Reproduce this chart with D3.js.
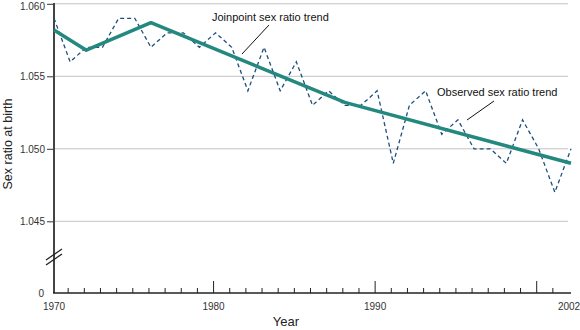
<!DOCTYPE html>
<html>
<head>
<meta charset="utf-8">
<script src="https://cdn.jsdelivr.net/npm/d3@7"></script>
<style>
  body { margin: 0; background: #fff; }
  svg { font-family: Arial, "Liberation Sans", sans-serif; }
</style>
</head>
<body>
<figure id="chart" style="margin:0"></figure>
<script>
// observed sex ratio at birth, one value per year
const years = d3.range(1970, 2003);
const observed = [
  1.059, 1.056, 1.057, 1.057, 1.059, 1.059, 1.057, 1.058, 1.058, 1.057,
  1.058, 1.057, 1.054, 1.057, 1.054, 1.056, 1.053, 1.054, 1.053, 1.053,
  1.054, 1.049, 1.053, 1.054, 1.051, 1.052, 1.050, 1.050, 1.049, 1.052,
  1.050, 1.047, 1.050
];
// joinpoint trend vertices
const trendYears = [1970, 1972, 1976, 1988, 2002];
const trendValues = [1.0582, 1.0568, 1.0587, 1.0532, 1.0490];

const yTicks = [1.045, 1.050, 1.055, 1.060];
const xLabels = [1970, 1980, 1990, 2002];
const xMajor = [1980, 1990, 2000];

const width = 580, height = 330;
const svg = d3.select("#chart").append("svg")
  .attr("width", width)
  .attr("height", height);

const x = d3.scaleLinear().domain([1970, 2002]).range([54, 571]);
const y = d3.scaleLinear().domain([1.045, 1.060]).range([221.3, 3.8]);
const baseY = 293;

// gridlines
svg.append("g")
  .selectAll("line")
  .data(yTicks)
  .enter()
  .append("line")
  .attr("x1", x(1970))
  .attr("x2", 568)
  .attr("y1", d => y(d))
  .attr("y2", d => y(d))
  .attr("stroke", "#c4c4c4")
  .attr("stroke-width", 1);

// Y axis with ticks
const yAxis = svg.append("g")
  .attr("transform", "translate(" + x(1970) + ",0)")
  .call(d3.axisLeft(y).tickValues(yTicks).tickFormat(d3.format(".3f")).tickSize(7).tickSizeOuter(0));
yAxis.select(".domain").remove();
yAxis.selectAll("line").attr("stroke", "#333");
yAxis.selectAll("text")
  .attr("font-size", 10)
  .attr("fill", "#333")
  .attr("x", -9)
  .attr("dy", d => d === 1.060 ? "0.6em" : "0.32em");

// zero label
svg.append("text")
  .attr("x", x(1970) - 10)
  .attr("y", baseY)
  .attr("dy", "0.35em")
  .attr("text-anchor", "end")
  .attr("font-size", 10)
  .attr("fill", "#333")
  .text("0");

// y axis line
svg.append("line")
  .attr("x1", x(1970)).attr("x2", x(1970))
  .attr("y1", 3).attr("y2", baseY)
  .attr("stroke", "#444").attr("stroke-width", 2);

// axis break
[0, 5].forEach(off => {
  svg.append("line")
    .attr("x1", x(1970) - 8).attr("y1", 260 + off)
    .attr("x2", x(1970) + 8).attr("y2", 249 + off)
    .attr("stroke", "#222").attr("stroke-width", 1.3);
});

// x axis ticks (minor + major)
const tickG = svg.append("g").attr("transform", "translate(-2,0)");
tickG.selectAll("line")
  .data(years.filter(d => d > 1970 && d < 2002))
  .enter()
  .append("line")
  .attr("x1", d => x(d)).attr("x2", d => x(d))
  .attr("y1", baseY)
  .attr("y2", d => xMajor.includes(d) ? baseY - 12 : baseY - 5)
  .attr("stroke", "#222").attr("stroke-width", 1);

svg.append("line")
  .attr("x1", x(1970) - 1).attr("x2", x(2002))
  .attr("y1", baseY).attr("y2", baseY)
  .attr("stroke", "#222").attr("stroke-width", 1.5);

svg.append("g")
  .selectAll("text")
  .data(xLabels)
  .enter()
  .append("text")
  .attr("x", d => d === 1970 ? x(d) : x(d) - 2)
  .attr("y", 310)
  .attr("text-anchor", "middle")
  .attr("font-size", 10)
  .attr("fill", "#333")
  .text(d => d);

// axis titles
svg.append("text")
  .attr("x", 286)
  .attr("y", 326)
  .attr("text-anchor", "middle")
  .attr("font-size", 13)
  .attr("fill", "#222")
  .text("Year");

svg.append("text")
  .attr("transform", "translate(12,144) rotate(-90)")
  .attr("text-anchor", "middle")
  .attr("font-size", 12.5)
  .attr("fill", "#222")
  .text("Sex ratio at birth");

// observed series (dashed)
const line = d3.line().x(d => x(d[0])).y(d => y(d[1]));
svg.append("path")
  .datum(years.map((yr, i) => [yr, observed[i]]))
  .attr("d", line)
  .attr("fill", "none")
  .attr("stroke", "#1d4f7c")
  .attr("stroke-width", 1.3)
  .attr("stroke-dasharray", "4,3");

// joinpoint trend
svg.append("path")
  .datum(trendYears.map((yr, i) => [yr, trendValues[i]]))
  .attr("d", line)
  .attr("fill", "none")
  .attr("stroke", "#23897e")
  .attr("stroke-width", 3.5)
  .attr("stroke-linejoin", "round");

// annotations
svg.append("text")
  .attr("x", 212).attr("y", 21)
  .attr("font-size", 11).attr("fill", "#111")
  .text("Joinpoint sex ratio trend");
svg.append("line")
  .attr("x1", 269).attr("y1", 25).attr("x2", 242).attr("y2", 54)
  .attr("stroke", "#111").attr("stroke-width", 1);

svg.append("text")
  .attr("x", 437).attr("y", 96)
  .attr("font-size", 11).attr("fill", "#111")
  .text("Observed sex ratio trend");
svg.append("line")
  .attr("x1", 494).attr("y1", 101).attr("x2", 467).attr("y2", 120)
  .attr("stroke", "#111").attr("stroke-width", 1);
</script>
</body>
</html>
